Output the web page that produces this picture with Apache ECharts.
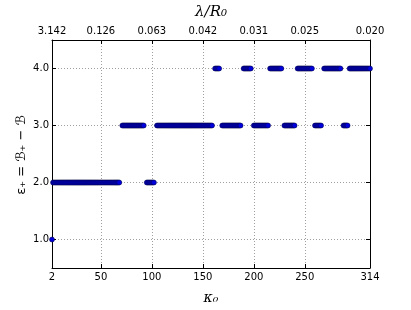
<!DOCTYPE html>
<html><head><meta charset="utf-8">
<script src="https://cdn.jsdelivr.net/npm/echarts@6/dist/echarts.min.js"></script>
<style>html,body{margin:0;padding:0;background:#fff}#c{width:411px;height:310px}</style>
</head><body><div id="c"></div>
<script>
// kappa_0 values at each epsilon level
const level1K = [2];
const level2K = [3,4,5,6,7,8,9,10,11,12,13,14,15,16,17,18,19,20,21,22,23,24,25,26,27,28,29,30,31,32,33,34,35,36,37,38,39,40,41,42,43,44,45,46,47,48,49,50,51,52,53,54,55,56,57,58,59,60,61,62,63,64,65,66,67,68,
  95,96,97,98,99,100,101,102];
const level3K = [71,72,73,74,75,76,77,78,79,80,81,82,83,84,85,86,87,88,89,90,91,92,
  105,106,107,108,109,110,111,112,113,114,115,116,117,118,119,120,121,122,123,124,125,126,127,128,129,130,131,132,133,134,135,136,137,138,139,140,141,142,143,144,145,146,147,148,149,150,151,152,153,154,155,156,157,158,159,
  169,170,171,172,173,174,175,176,177,178,179,180,181,182,183,184,185,186,187,
  200,201,202,203,204,205,206,207,208,209,210,211,212,213,214,
  230,231,232,233,234,235,236,237,238,239,240,
  260,261,262,263,264,265,266,
  288,289,290,291,292];
const level4K = [162,163,164,165,166,
  190,191,192,193,194,195,196,197,
  216,217,218,219,220,221,222,223,224,225,226,227,
  243,244,245,246,247,248,249,250,251,252,253,254,255,256,257,
  269,270,271,272,273,274,275,276,277,278,279,280,281,282,283,284,285,
  294,295,296,297,298,299,300,301,302,303,304,305,306,307,308,309,310,311,312,313,314];
const levels = [1, 2, 3, 4];
const levelKs = [level1K, level2K, level3K, level4K];

const xTicks = [2, 50, 100, 150, 200, 250, 314];
const topTickLabels = ['3.142', '0.126', '0.063', '0.042', '0.031', '0.025', '0.020'];
const yTicks = [1, 2, 3, 4];
const yTitle = 'ε₊ = ℬ₊ − ℬ';

const points = [];
levelKs.forEach((ks, i) => ks.forEach(k => points.push([k, levels[i]])));

const font = 'DejaVu Sans';
const lab = {color: '#000', fontFamily: font, fontSize: 10};
const axLine = {show: true, lineStyle: {color: '#000', width: 1}};
const grid = {show: true, lineStyle: {color: '#888', width: 0.8, type: [1, 2]}};

const chart = echarts.init(document.getElementById('c'), null, {renderer: 'canvas'});
chart.setOption({
  animation: false,
  backgroundColor: '#fff',
  grid: {left: 52, right: 41, top: 31, bottom: 32, containLabel: false},
  graphic: [{
    type: 'text', x: 22, y: 155, rotation: Math.PI / 2,
    style: {text: yTitle, align: 'center', verticalAlign: 'middle',
            font: '13px "DejaVu Sans"', fill: '#000'}
  }],
  xAxis: [
    {type: 'value', position: 'bottom', min: 2, max: 314,
     name: 'κ₀', nameLocation: 'middle', nameGap: 23,
     nameTextStyle: {fontFamily: 'DejaVu Serif', fontStyle: 'italic', fontSize: 14, color: '#000'},
     axisLine: axLine,
     axisTick: {show: true, inside: true, length: 4, customValues: xTicks, lineStyle: {color: '#000'}},
     axisLabel: Object.assign({customValues: xTicks, margin: 4, showMinLabel: true, showMaxLabel: true}, lab),
     splitLine: grid},
    {type: 'value', position: 'top', min: 2, max: 314,
     name: 'λ/R₀', nameLocation: 'middle', nameGap: 20,
     nameTextStyle: {fontFamily: 'DejaVu Serif', fontStyle: 'italic', fontSize: 15, color: '#000'},
     axisLine: axLine,
     axisTick: {show: true, inside: true, length: 4, customValues: xTicks, lineStyle: {color: '#000'}},
     axisLabel: Object.assign({customValues: xTicks, margin: 4,
       formatter: v => topTickLabels[xTicks.indexOf(v)]}, lab),
     splitLine: {show: false}}
  ],
  yAxis: [
    {type: 'value', position: 'left', min: 0.5, max: 4.5,
     axisLine: axLine,
     axisTick: {show: true, inside: true, length: 4, customValues: yTicks, lineStyle: {color: '#000'}},
     axisLabel: Object.assign({customValues: yTicks, margin: 3, formatter: v => v.toFixed(1)}, lab),
     splitLine: grid},
    {type: 'value', position: 'right', min: 0.5, max: 4.5,
     axisLine: axLine,
     axisTick: {show: true, inside: true, length: 4, customValues: yTicks, lineStyle: {color: '#000'}},
     axisLabel: {show: false},
     splitLine: {show: false}}
  ],
  series: [{
    type: 'scatter', xAxisIndex: 0, yAxisIndex: 0,
    data: points, symbol: 'circle', symbolSize: 5,
    itemStyle: {color: '#0000dd', borderColor: '#00003a', borderWidth: 0.5, opacity: 1},
    clip: true, z: 3
  }]
});
</script></body></html>
